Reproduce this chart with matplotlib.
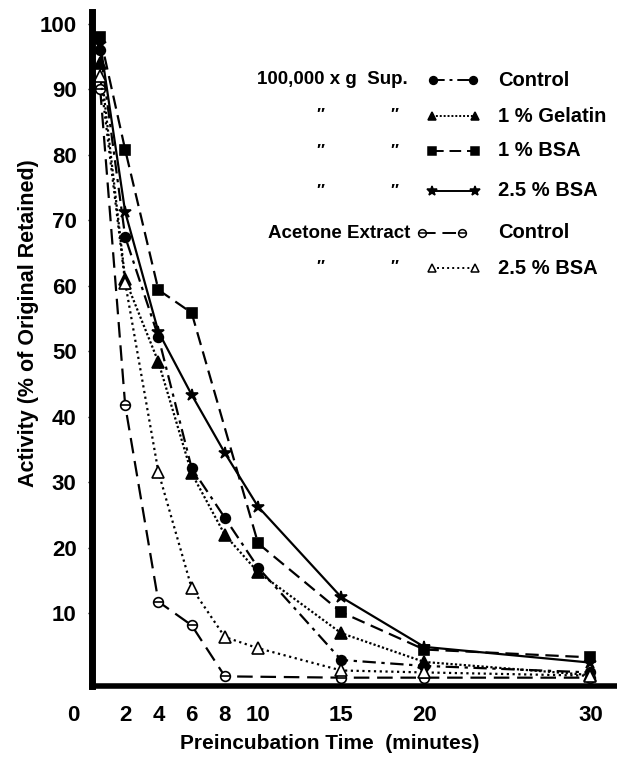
import matplotlib
matplotlib.use("Agg")
import matplotlib.pyplot as plt
import matplotlib.transforms as mtransforms

plt.rcParams["font.family"] = ["Liberation Sans", "DejaVu Sans"]
plt.rcParams["font.weight"] = "bold"
plt.rcParams["axes.labelweight"] = "bold"

# preincubation times (minutes)
t_all = [0.5, 2, 4, 6, 8, 10, 15, 20, 30]
t_bsa1 = [0.5, 2, 4, 6, 10, 15, 20, 30]
t_ace = [0.5, 2, 4, 6, 8, 15, 20, 30]

# activity, % of original retained
sup_control = [96, 67.5, 52.2, 32.2, 24.6, 17, 2.9, 2.0, 1.0]
sup_gelatin = [94, 61, 48.4, 31.4, 22, 16.3, 7, 2.6, 0.6]
sup_bsa1 = [98, 80.8, 59.4, 55.9, 20.7, 10.2, 4.5, 3.3]
sup_bsa25 = [97, 71.3, 53, 43.4, 34.5, 26.3, 12.5, 4.9, 2.5]
ace_control = [90, 41.8, 11.8, 8.2, 0.4, 0.2, 0.2, 0.2]
ace_bsa25 = [92, 60.5, 31.6, 13.9, 6.4, 4.7, 1.3, 1.0, 0.5]

x_ticks = [0, 2, 4, 6, 8, 10, 15, 20, 30]
y_ticks = [10, 20, 30, 40, 50, 60, 70, 80, 90, 100]

styles = {
    "sup_control": dict(ls=(0, (6, 2.5, 1.5, 2.5)), marker="o", mfc="black", ms=7),
    "sup_gelatin": dict(ls=(0, (1, 1)), marker="^", mfc="black", ms=8),
    "sup_bsa1": dict(ls=(0, (6, 3)), marker="s", mfc="black", ms=7),
    "sup_bsa25": dict(ls="-", marker="*", mfc="black", ms=9),
    "ace_control": dict(ls=(0, (7, 3.5)), marker="o", mfc="white", ms=7),
    "ace_bsa25": dict(ls=(0, (1, 1.6)), marker="^", mfc="white", ms=8),
}

fig = plt.figure(figsize=(6.17, 7.58), dpi=100)
ax = fig.add_axes([0.149, 0.095, 0.851, 0.889])


def draw(x, y, key):
    st = styles[key]
    ax.plot(x, y, color="black", lw=1.6, ls=st["ls"], marker=st["marker"],
            mfc=st["mfc"], mec="black", ms=st["ms"], mew=1.2)
    if key == "ace_control":
        ax.plot(x, y, ls="none", marker="_", color="black", ms=st["ms"], mew=1.2)


draw(t_all, sup_control, "sup_control")
draw(t_all, sup_gelatin, "sup_gelatin")
draw(t_bsa1, sup_bsa1, "sup_bsa1")
draw(t_all, sup_bsa25, "sup_bsa25")
draw(t_ace, ace_control, "ace_control")
draw(t_all, ace_bsa25, "ace_bsa25")

ax.set_xlim(0, 31.6)
ax.set_ylim(-1.07, 101.8)
ax.set_xticks(x_ticks)
ax.set_xticklabels([str(v) for v in x_ticks])
ax.set_yticks(y_ticks)
ax.set_yticklabels([str(v) for v in y_ticks])
ax.tick_params(axis="x", length=0, pad=14, labelsize=16)
ax.tick_params(axis="y", length=3, width=1, pad=8, labelsize=16)

# origin label sits out at the corner
zero = ax.get_xticklabels()[0]
zero.set_transform(zero.get_transform()
                   + mtransforms.ScaledTranslation(-0.19, 0, fig.dpi_scale_trans))

for side in ("top", "right"):
    ax.spines[side].set_visible(False)
ax.spines["left"].set_linewidth(5)
ax.spines["bottom"].set_linewidth(4)

ax.set_xlabel("Preincubation Time  (minutes)", fontsize=15)
ax.set_ylabel("Activity (% of Original Retained)", fontsize=15.5)
ax.xaxis.label.set_va("center")
ax.yaxis.label.set_va("center")
ax.xaxis.set_label_coords(0.453, -0.085)
ax.yaxis.set_label_coords(-0.12, 0.539)

# key, laid out in figure pixels
W, H = 617.0, 758.0


def fx(px):
    return px / W


def fy(py):
    return 1 - py / H


rows = [
    (80, "100,000 x g  Sup.", "sup_control", "Control"),
    (116, None, "sup_gelatin", "1 % Gelatin"),
    (151, None, "sup_bsa1", "1 % BSA"),
    (191, None, "sup_bsa25", "2.5 % BSA"),
    (233, "Acetone Extract", "ace_control", "Control"),
    (268, None, "ace_bsa25", "2.5 % BSA"),
]
for py, prefix, key, label in rows:
    st = styles[key]
    if prefix is None:
        for dx in (320, 394):
            fig.text(fx(dx), fy(py), "\u2033", fontsize=12, ha="center", va="center")
        x0, x1 = 432, 475
    else:
        fig.text(fx(257 if key == "sup_control" else 268), fy(py), prefix,
                 fontsize=13.5, ha="left", va="center")
        x0, x1 = (433, 473) if key == "sup_control" else (422, 462)
    ms = st["ms"] * 0.8
    fig.add_artist(plt.Line2D([fx(x0), fx(x1)], [fy(py), fy(py)], transform=fig.transFigure,
                              color="black", lw=1.4, ls=st["ls"], marker=st["marker"],
                              mfc=st["mfc"], mec="black", ms=ms, mew=1.1))
    if key == "ace_control":
        fig.add_artist(plt.Line2D([fx(x0), fx(x1)], [fy(py), fy(py)], transform=fig.transFigure,
                                  ls="none", marker="_", color="black", ms=ms, mew=1.1))
    fig.text(fx(498), fy(py), label, fontsize=14.5, ha="left", va="center")

fig.savefig("out.png", dpi=100)
